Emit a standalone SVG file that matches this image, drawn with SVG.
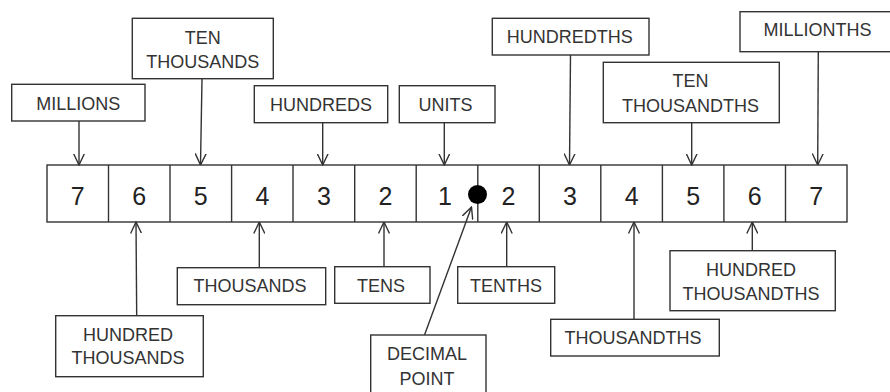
<svg xmlns="http://www.w3.org/2000/svg" width="890" height="392" viewBox="0 0 890 392">
<style>
.box{fill:#fff;stroke:#333;stroke-width:1.4}
.lbl{font-family:"Liberation Sans",Arial,sans-serif;font-size:18px;fill:#333;text-anchor:middle}
.dig{font-family:"Liberation Sans",Arial,sans-serif;font-size:25px;fill:#222;text-anchor:middle}
.con line{stroke:#333;stroke-width:1.4;marker-end:url(#ah)}
.cell{fill:#fff;stroke:#333;stroke-width:1.4}
</style>
<defs>
<marker id="ah" viewBox="0 0 12 12" refX="11.5" refY="6" markerWidth="12" markerHeight="12" markerUnits="userSpaceOnUse" orient="auto">
<path d="M0,0.5 L11.5,6 L0,11.5" fill="none" stroke="#333" stroke-width="1.4"/>
</marker>
</defs>
<rect width="890" height="392" fill="#fff"/>

<g id="row">
<rect class="cell" x="47" y="165" width="800" height="57"/>
<g stroke="#333" stroke-width="1.4">
<line x1="108.5" y1="165" x2="108.5" y2="222"/>
<line x1="170" y1="165" x2="170" y2="222"/>
<line x1="231.6" y1="165" x2="231.6" y2="222"/>
<line x1="293" y1="165" x2="293" y2="222"/>
<line x1="354.7" y1="165" x2="354.7" y2="222"/>
<line x1="416.2" y1="165" x2="416.2" y2="222"/>
<line x1="477.8" y1="165" x2="477.8" y2="222"/>
<line x1="539.3" y1="165" x2="539.3" y2="222"/>
<line x1="600.8" y1="165" x2="600.8" y2="222"/>
<line x1="662.4" y1="165" x2="662.4" y2="222"/>
<line x1="723.9" y1="165" x2="723.9" y2="222"/>
<line x1="785.5" y1="165" x2="785.5" y2="222"/>
</g>
<text class="dig" x="77.8" y="205">7</text>
<text class="dig" x="139.3" y="205">6</text>
<text class="dig" x="200.8" y="205">5</text>
<text class="dig" x="262.4" y="205">4</text>
<text class="dig" x="323.9" y="205">3</text>
<text class="dig" x="385.5" y="205">2</text>
<text class="dig" x="445" y="205">1</text>
<text class="dig" x="508.5" y="205">2</text>
<text class="dig" x="570" y="205">3</text>
<text class="dig" x="631.6" y="205">4</text>
<text class="dig" x="693.1" y="205">5</text>
<text class="dig" x="754.7" y="205">6</text>
<text class="dig" x="816.2" y="205">7</text>
<circle cx="477.5" cy="194.5" r="9.5" fill="#000"/>
</g>

<g id="connectors" class="con">
<line x1="79" y1="121" x2="79" y2="165"/>
<line x1="202" y1="78.7" x2="200.5" y2="165"/>
<line x1="322.7" y1="122.7" x2="322.7" y2="165"/>
<line x1="444.3" y1="122.7" x2="444.3" y2="165"/>
<line x1="570.5" y1="55" x2="569.5" y2="165"/>
<line x1="691.7" y1="122.7" x2="691.7" y2="165"/>
<line x1="818.3" y1="51.7" x2="817.7" y2="165"/>
<line x1="136.7" y1="315.7" x2="136" y2="222"/>
<line x1="259.3" y1="267.7" x2="259.3" y2="222"/>
<line x1="384" y1="266.7" x2="384" y2="222"/>
<line x1="424.5" y1="335" x2="471.5" y2="207"/>
<line x1="506.7" y1="266.7" x2="506.7" y2="222"/>
<line x1="634" y1="319.3" x2="634" y2="222"/>
<line x1="752.3" y1="250.7" x2="752.3" y2="222"/>
</g>

<g id="millions"><rect class="box" x="11.7" y="84.3" width="133.3" height="36.7"/><text class="lbl" x="78.3" y="110">MILLIONS</text></g>
<g id="ten-thousands"><rect class="box" x="132.3" y="18.3" width="141" height="60.4"/><text class="lbl" x="202.8" y="44">TEN</text><text class="lbl" x="202.8" y="68.3">THOUSANDS</text></g>
<g id="hundreds"><rect class="box" x="254.3" y="85.7" width="133.4" height="37"/><text class="lbl" x="321" y="111">HUNDREDS</text></g>
<g id="units"><rect class="box" x="399.3" y="85.7" width="95.7" height="37"/><text class="lbl" x="445.5" y="111">UNITS</text></g>
<g id="hundredths"><rect class="box" x="492.3" y="18.3" width="156.7" height="36.7"/><text class="lbl" x="569.7" y="43.3">HUNDREDTHS</text></g>
<g id="ten-thousandths"><rect class="box" x="603.3" y="62.3" width="176" height="60.4"/><text class="lbl" x="690.5" y="86.7">TEN</text><text class="lbl" x="690.5" y="111.7">THOUSANDTHS</text></g>
<g id="millionths"><rect class="box" x="740" y="11.7" width="155" height="40"/><text class="lbl" x="817.5" y="36">MILLIONTHS</text></g>
<g id="hundred-thousands"><rect class="box" x="55.7" y="315.7" width="147.6" height="61"/><text class="lbl" x="128" y="340.7">HUNDRED</text><text class="lbl" x="128" y="364">THOUSANDS</text></g>
<g id="thousands"><rect class="box" x="177.3" y="267.7" width="148.4" height="37"/><text class="lbl" x="250" y="291.7">THOUSANDS</text></g>
<g id="tens"><rect class="box" x="334.7" y="266.7" width="95.3" height="36.6"/><text class="lbl" x="381" y="291.7">TENS</text></g>
<g id="decimal-point"><rect class="box" x="370.7" y="335" width="115.3" height="64"/><text class="lbl" x="427" y="360">DECIMAL</text><text class="lbl" x="427" y="385">POINT</text></g>
<g id="tenths"><rect class="box" x="457.7" y="266.7" width="97" height="36.6"/><text class="lbl" x="506" y="291.7">TENTHS</text></g>
<g id="thousandths"><rect class="box" x="550.7" y="319.3" width="168.6" height="36.7"/><text class="lbl" x="633" y="344">THOUSANDTHS</text></g>
<g id="hundred-thousandths"><rect class="box" x="670" y="250.7" width="165.3" height="60"/><text class="lbl" x="751" y="275.7">HUNDRED</text><text class="lbl" x="751" y="300">THOUSANDTHS</text></g>
</svg>
